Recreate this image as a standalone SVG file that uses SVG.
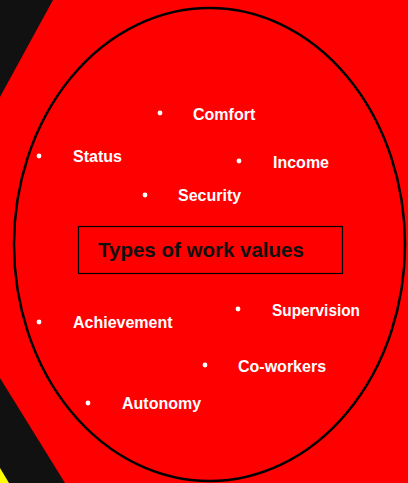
<svg xmlns="http://www.w3.org/2000/svg" width="408" height="483" viewBox="0 0 408 483">
  <style>
    .item { font-family: "Liberation Sans", Arial, sans-serif; font-weight: bold; font-size: 16px; fill: #ffffff; }
    .dot { fill: #ffffff; }
    .title { font-family: "Liberation Sans", Arial, sans-serif; font-weight: bold; font-size: 20.5px; fill: #111111; }
  </style>
  <!-- background -->
  <rect x="0" y="0" width="408" height="483" fill="#ff0000"/>
  <polygon points="0,0 53,0 0,97" fill="#111111"/>
  <polygon points="0,378 65,483 0,483" fill="#111111"/>
  <polygon points="0,468 9,483 0,483" fill="#ffff00"/>
  <!-- outer ellipse -->
  <g id="ellipse">
    <ellipse cx="209.5" cy="244.5" rx="195.5" ry="236.5" fill="none" stroke="#000000" stroke-width="2.5"/>
  </g>
  <!-- central heading -->
  <g id="title">
    <rect x="78.5" y="226.5" width="264" height="47" fill="none" stroke="#000000" stroke-width="1.2"/>
    <text class="title" x="98" y="257">Types of work values</text>
  </g>
  <!-- bulleted values -->
  <g id="comfort"><circle class="dot" cx="160" cy="113" r="2.4"/><text class="item" x="193" y="120">Comfort</text></g>
  <g id="status"><circle class="dot" cx="39" cy="156" r="2.4"/><text class="item" x="73" y="162">Status</text></g>
  <g id="income"><circle class="dot" cx="239" cy="161" r="2.4"/><text class="item" x="273" y="168">Income</text></g>
  <g id="security"><circle class="dot" cx="145" cy="195" r="2.4"/><text class="item" x="178" y="201">Security</text></g>
  <g id="achievement"><circle class="dot" cx="39" cy="322" r="2.4"/><text class="item" x="73" y="328">Achievement</text></g>
  <g id="supervision"><circle class="dot" cx="238" cy="309" r="2.4"/><text class="item" x="272" y="316" textLength="88" lengthAdjust="spacingAndGlyphs">Supervision</text></g>
  <g id="co-workers"><circle class="dot" cx="205" cy="365" r="2.4"/><text class="item" x="238" y="372">Co-workers</text></g>
  <g id="autonomy"><circle class="dot" cx="88" cy="403" r="2.4"/><text class="item" x="122" y="409">Autonomy</text></g>
  <g id="connectors"/>
</svg>
